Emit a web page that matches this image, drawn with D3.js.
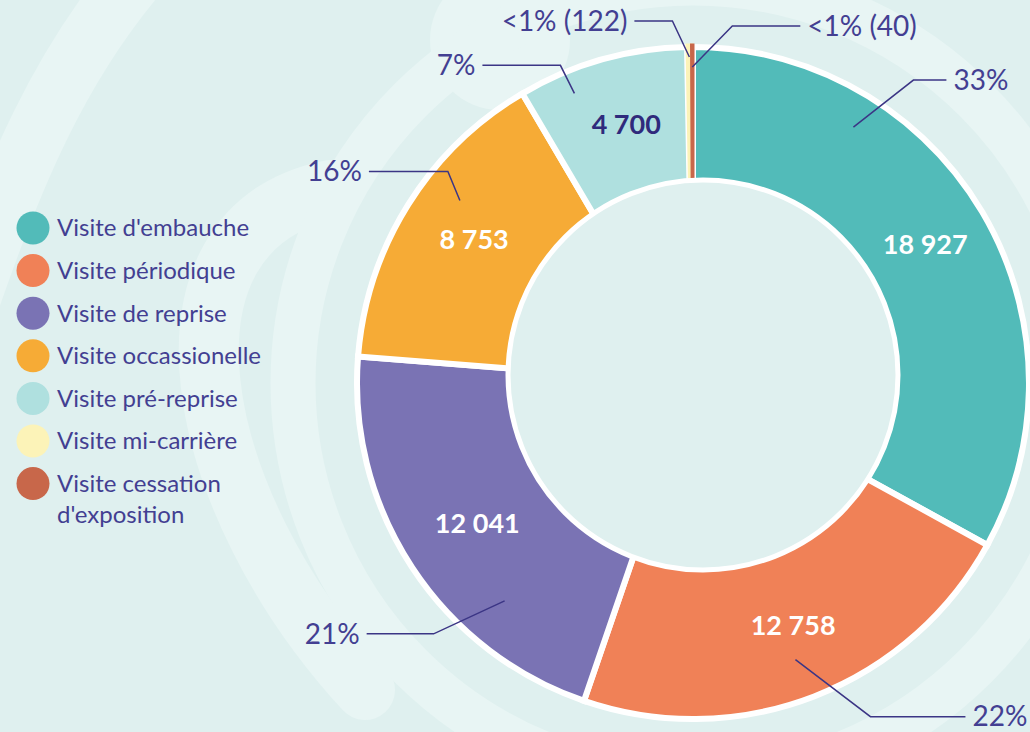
<!DOCTYPE html>
<html>
<head>
<meta charset="utf-8">
<script src="https://cdn.jsdelivr.net/npm/d3@7"></script>
<style>
  body { margin: 0; background: #dff0ef; }
  svg { display: block; }
</style>
</head>
<body>
<div id="chart"></div>
<script>
// data
const categories = [
  "Visite d'embauche",
  'Visite périodique',
  'Visite de reprise',
  'Visite occassionelle',
  'Visite pré-reprise',
  'Visite mi-carrière',
  "Visite cessation d'exposition"
];
const values = [18927, 12758, 12041, 8753, 4700, 122, 40];
const percentLabels = ['33%', '22%', '21%', '16%', '7%', '<1% (122)', '<1% (40)'];
const colors = ['#52bbb9', '#f08157', '#7a73b4', '#f6ab36', '#afe0df', '#fcf3b8', '#c8674a'];

// leader line layout: where it leaves the slice, then elbow + horizontal run
const leaders = [
  { at: 0.27, r: 302, dx: 60, dy: -47, run: 33 },
  { at: 0.51, r: 295, dx: 75, dy: 57, run: 95 },
  { at: 0.29, r: 288, dx: -71, dy: 33, run: -67 },
  { at: 0.61, r: 296, dx: -12, dy: -29, run: -79 },
  { at: 0.28, r: 313, dx: -14, dy: -28, run: -78 },
  { at: 0.5, r: 326, dx: -17, dy: -36, run: -38 },
  { at: 0.5, r: 316, dx: 40, dy: -41, run: 68 }
];

const width = 1030, height = 732;
const cx = 693, cy = 383;
const outerR = 336, innerR = 180;
const font = 'Lato, "Open Sans", sans-serif';
const navy = '#433f92';

const fmt = d3.formatLocale({ decimal: ',', thousands: ' ', grouping: [3], currency: ['', ' €'] }).format(',d');

const svg = d3.select('#chart').append('svg')
  .attr('width', width)
  .attr('height', height);

// background swirls
const deco = svg.append('g')
  .attr('fill', 'none')
  .attr('stroke', '#e8f5f4')
  .attr('stroke-linecap', 'round');

deco.append('path')
  .attr('d', 'M 150 -40 C 60 60, 10 180, -40 330')
  .attr('stroke-width', 60);
deco.append('path')
  .attr('d', 'M 330 190 C 140 230, 190 500, 365 690')
  .attr('stroke-width', 60);
deco.append('circle')
  .attr('cx', 500).attr('cy', 40).attr('r', 70)
  .attr('fill', '#e8f5f4').attr('stroke', 'none');
deco.append('circle')
  .attr('cx', cx).attr('cy', cy).attr('r', 400)
  .attr('stroke-width', 45);

// donut
const pie = d3.pie().sort(null).value(d => d);
const arcs = pie(values);

const arc = d3.arc().innerRadius(innerR).outerRadius(outerR);
const labelArc = d3.arc().innerRadius(264).outerRadius(264);

const g = svg.append('g')
  .attr('transform', `translate(${cx},${cy})`);

const big = arcs.filter(d => d.data >= 1000);
const small = arcs.filter(d => d.data < 1000);

g.selectAll('path.big')
  .data(big)
  .join('path')
  .attr('class', 'big')
  .attr('d', arc)
  .attr('fill', d => colors[d.index])
  .attr('stroke', '#fff')
  .attr('stroke-width', 6)
  .attr('stroke-linejoin', 'miter');

g.selectAll('path.small')
  .data(small)
  .join('path')
  .attr('class', 'small')
  .attr('d', d3.arc().innerRadius(innerR).outerRadius(outerR + 2))
  .attr('fill', d => colors[d.index])
  .attr('stroke', d => colors[d.index])
  .attr('stroke-width', 3);

// hole (slightly off-centre, as in the original)
const holeDx = 10, holeDy = -8;
svg.append('circle')
  .attr('cx', cx + holeDx)
  .attr('cy', cy + holeDy)
  .attr('r', 195)
  .attr('fill', '#dff0ef')
  .attr('stroke', '#fff')
  .attr('stroke-width', 5);

// value labels inside the ring (midway between outer edge and hole)
g.selectAll('text.value')
  .data(big)
  .join('text')
  .attr('class', 'value')
  .attr('transform', d => {
    const [x, y] = labelArc.centroid(d);
    return `translate(${x + holeDx / 2},${y + holeDy / 2})`;
  })
  .attr('text-anchor', 'middle')
  .attr('dy', '0.35em')
  .attr('font-family', font)
  .attr('font-weight', 700)
  .attr('font-size', 27)
  .attr('fill', d => d.index === 4 ? '#2f2a7c' : '#fff')
  .text(d => fmt(d.data));

// leader lines + percentages
const leaderData = arcs.map((d, i) => {
  const L = leaders[i];
  const a = d.startAngle + (d.endAngle - d.startAngle) * L.at;
  const x0 = L.r * Math.sin(a), y0 = -L.r * Math.cos(a);
  const x1 = x0 + L.dx, y1 = y0 + L.dy;
  const x2 = x1 + L.run;
  return { i, pts: [[x0, y0], [x1, y1], [x2, y1]], side: L.run > 0 ? 1 : -1 };
});

g.selectAll('path.leader')
  .data(leaderData)
  .join('path')
  .attr('class', 'leader')
  .attr('d', d => d3.line()(d.pts))
  .attr('fill', 'none')
  .attr('stroke', '#3b3585')
  .attr('stroke-width', 1.5);

g.selectAll('text.pct')
  .data(leaderData)
  .join('text')
  .attr('class', 'pct')
  .attr('x', d => d.pts[2][0] + d.side * 7)
  .attr('y', d => d.pts[2][1])
  .attr('dy', '0.35em')
  .attr('text-anchor', d => d.side > 0 ? 'start' : 'end')
  .attr('font-family', font)
  .attr('font-size', 28)
  .attr('fill', navy)
  .text(d => percentLabels[d.i]);

// legend
const legend = svg.append('g')
  .attr('transform', 'translate(33,228)');

const item = legend.selectAll('g')
  .data(categories)
  .join('g')
  .attr('transform', (d, i) => `translate(0,${i * 42.6})`);

item.append('circle')
  .attr('r', 16.5)
  .attr('fill', (d, i) => colors[i]);

item.append('text')
  .attr('x', 24)
  .attr('dy', '0.35em')
  .attr('font-family', font)
  .attr('font-size', 24)
  .attr('fill', navy)
  .each(function (d) {
    // wrap long labels
    const t = d3.select(this);
    const words = d.split(' ');
    let line = [];
    let tspan = t.append('tspan').attr('x', 24);
    for (const w of words) {
      line.push(w);
      tspan.text(line.join(' '));
      if (tspan.node().getComputedTextLength() > 230 && line.length > 1) {
        line.pop();
        tspan.text(line.join(' '));
        line = [w];
        tspan = t.append('tspan').attr('x', 24).attr('dy', 31).text(w);
      }
    }
  });
</script>
</body>
</html>
